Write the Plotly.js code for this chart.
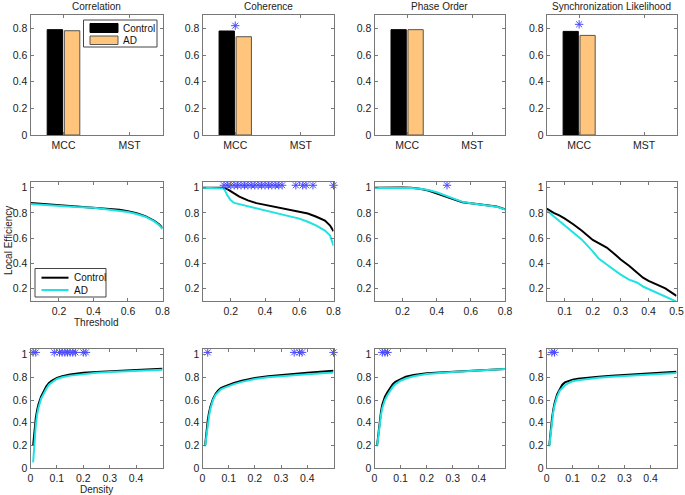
<!DOCTYPE html>
<html><head><meta charset="utf-8">
<script src="https://cdn.plot.ly/plotly-3.0.1.min.js"></script>
<style>html,body{margin:0;padding:0;background:#fff}#chart{width:685px;height:495px}</style>
</head><body><div id="chart"></div>
<script>
// ---------- data ----------
const measures = ['Correlation', 'Coherence', 'Phase Order', 'Synchronization Likelihood'];
const groups = ['Control', 'AD'];
const barCategories = ['MCC', 'MST'];
const mccControl = [0.790, 0.780, 0.790, 0.777];
const mccAD      = [0.782, 0.737, 0.790, 0.747];
const mstControl = [null, null, null, null];
const mstAD      = [null, null, null, null];
const barStarY   = [null, 0.82, null, 0.83];

// threshold curves (local efficiency vs threshold)
const thrCorr = [0.035, 0.1, 0.2, 0.3, 0.4, 0.5, 0.55, 0.6, 0.65, 0.7, 0.75, 0.78, 0.8];
const corrThrControl = [0.880, 0.873, 0.862, 0.853, 0.845, 0.833, 0.825, 0.813, 0.798, 0.775, 0.740, 0.710, 0.680];
const corrThrAD      = [0.872, 0.865, 0.856, 0.848, 0.842, 0.828, 0.820, 0.808, 0.792, 0.770, 0.735, 0.705, 0.672];
const corrThrStars = [];

const thrCoh = [0.035, 0.1, 0.15, 0.16, 0.18, 0.2, 0.22, 0.25, 0.3, 0.35, 0.4, 0.45, 0.5, 0.55, 0.6, 0.65, 0.7, 0.75, 0.78, 0.8];
const cohThrControl = [1, 1, 1, 1, 0.99, 0.975, 0.955, 0.93, 0.90, 0.878, 0.865, 0.85, 0.838, 0.825, 0.81, 0.795, 0.77, 0.74, 0.70, 0.655];
const cohThrAD      = [1, 1, 1, 0.995, 0.94, 0.90, 0.88, 0.87, 0.855, 0.84, 0.825, 0.805, 0.79, 0.772, 0.755, 0.73, 0.70, 0.66, 0.62, 0.54];
const cohThrStars = [0.16, 0.18, 0.2, 0.22, 0.24, 0.26, 0.28, 0.3, 0.32, 0.34, 0.36, 0.38, 0.4, 0.42, 0.44, 0.46, 0.48, 0.5, 0.58, 0.62, 0.64, 0.68, 0.8];

const thrPhase = [0.035, 0.1, 0.2, 0.25, 0.3, 0.35, 0.4, 0.45, 0.5, 0.55, 0.6, 0.65, 0.7, 0.75, 0.8];
const phaseThrControl = [1.0, 1.002, 1.003, 1.0, 0.993, 0.978, 0.955, 0.928, 0.905, 0.885, 0.877, 0.870, 0.863, 0.852, 0.828];
const phaseThrAD      = [0.998, 0.998, 1.0, 0.998, 0.993, 0.983, 0.965, 0.940, 0.910, 0.888, 0.878, 0.870, 0.862, 0.850, 0.827];
const phaseThrStars = [0.46];

const thrSL = [0.035, 0.06, 0.08, 0.1, 0.13, 0.16, 0.2, 0.22, 0.25, 0.28, 0.3, 0.33, 0.36, 0.38, 0.4, 0.43, 0.46, 0.5];
const slThrControl = [0.835, 0.80, 0.78, 0.755, 0.71, 0.66, 0.585, 0.56, 0.525, 0.47, 0.43, 0.38, 0.32, 0.285, 0.26, 0.23, 0.20, 0.14];
const slThrAD      = [0.82, 0.775, 0.74, 0.70, 0.65, 0.59, 0.495, 0.44, 0.39, 0.34, 0.31, 0.27, 0.245, 0.215, 0.195, 0.165, 0.135, 0.095];
const slThrStars = [];

// density curves (local efficiency vs density)
const density = [0.01, 0.015, 0.02, 0.025, 0.03, 0.04, 0.05, 0.06, 0.07, 0.08, 0.1, 0.12, 0.15, 0.2, 0.25, 0.3, 0.4, 0.5];
const corrDenControl  = [0.20, 0.34, 0.44, 0.51, 0.56, 0.63, 0.68, 0.72, 0.75, 0.77, 0.795, 0.81, 0.825, 0.84, 0.848, 0.855, 0.865, 0.875];
const corrDenAD       = [0.05, 0.25, 0.38, 0.47, 0.53, 0.61, 0.66, 0.70, 0.735, 0.755, 0.785, 0.80, 0.815, 0.83, 0.84, 0.847, 0.858, 0.868];
const corrDenStars = [0.01, 0.02, 0.09, 0.11, 0.12, 0.13, 0.14, 0.15, 0.16, 0.17, 0.2, 0.21];
const cohDenControl   = [0.20, 0.33, 0.42, 0.49, 0.54, 0.61, 0.655, 0.685, 0.705, 0.715, 0.735, 0.75, 0.77, 0.795, 0.81, 0.822, 0.84, 0.858];
const cohDenAD        = [0.19, 0.30, 0.39, 0.46, 0.52, 0.60, 0.645, 0.675, 0.695, 0.705, 0.725, 0.74, 0.76, 0.785, 0.80, 0.81, 0.827, 0.843];
const cohDenStars = [0.02, 0.35, 0.37, 0.38, 0.5];
const phaseDenControl = [0.20, 0.32, 0.42, 0.50, 0.56, 0.63, 0.67, 0.71, 0.74, 0.76, 0.785, 0.805, 0.82, 0.835, 0.843, 0.85, 0.862, 0.874];
const phaseDenAD      = [0.19, 0.30, 0.39, 0.47, 0.53, 0.60, 0.645, 0.685, 0.715, 0.74, 0.77, 0.79, 0.81, 0.83, 0.84, 0.848, 0.86, 0.873];
const phaseDenStars = [0.03, 0.04, 0.05];
const slDenControl    = [0.20, 0.33, 0.43, 0.51, 0.57, 0.65, 0.70, 0.735, 0.755, 0.765, 0.78, 0.787, 0.795, 0.805, 0.815, 0.822, 0.835, 0.85];
const slDenAD         = [0.19, 0.31, 0.41, 0.49, 0.55, 0.63, 0.68, 0.71, 0.73, 0.745, 0.765, 0.775, 0.785, 0.797, 0.805, 0.812, 0.825, 0.838];
const slDenStars = [0.02, 0.03];

const starLevel = 1.02;

// ---------- styling ----------
const W = 685, H = 495;
const colPx = [[30.5, 162.5], [202.5, 333.5], [374.5, 505], [546.7, 676.5]];
const rowPx = [[15, 135], [181.5, 301], [349, 468]];
const FONT = 'Liberation Sans, Arial, Helvetica, sans-serif';
const black = '#000000', cyan = '#1FE2E2', orange = '#FFC57C', starBlue = '#4a4aFF';
const TICK = 10.5, TXT = 10;

const thrSets = [
  [thrCorr, corrThrControl, corrThrAD, corrThrStars],
  [thrCoh, cohThrControl, cohThrAD, cohThrStars],
  [thrPhase, phaseThrControl, phaseThrAD, phaseThrStars],
  [thrSL, slThrControl, slThrAD, slThrStars]
];
const denSets = [
  [corrDenControl, corrDenAD, corrDenStars],
  [cohDenControl, cohDenAD, cohDenStars],
  [phaseDenControl, phaseDenAD, phaseDenStars],
  [slDenControl, slDenAD, slDenStars]
];

const px = v => v / W, py = v => 1 - v / H;
const traces = [];
const layout = {
  width: W, height: H, margin: {l: 0, r: 0, t: 0, b: 0},
  paper_bgcolor: '#fff', plot_bgcolor: '#fff',
  font: {family: FONT, size: TXT, color: '#222'},
  barmode: 'group', bargap: 0.48, bargroupgap: 0.1,
  showlegend: false,
  annotations: [], shapes: []
};

function axStyle(extra) {
  return Object.assign({
    showline: true, linecolor: '#777', linewidth: 1, mirror: 'ticks',
    ticks: 'inside', ticklen: 3, tickcolor: '#777', showgrid: false, zeroline: false,
    tickfont: {size: TICK, family: FONT, color: '#222'}, fixedrange: true
  }, extra);
}
const starMarker = {symbol: 'asterisk-open', size: 7, color: starBlue, line: {color: starBlue, width: 1}};

for (let r = 0; r < 3; r++) {
  for (let c = 0; c < 4; c++) {
    const i = r * 4 + c + 1;
    const xn = i === 1 ? 'xaxis' : 'xaxis' + i;
    const yn = i === 1 ? 'yaxis' : 'yaxis' + i;
    const xr = 'x' + (i === 1 ? '' : i), yr = 'y' + (i === 1 ? '' : i);
    const xd = [px(colPx[c][0]), px(colPx[c][1])];
    const yd = [py(rowPx[r][1]), py(rowPx[r][0])];
    if (r === 0) {
      layout[xn] = axStyle({domain: xd, anchor: yr, type: 'category', range: [-0.5, 1.5],
        categoryorder: 'array', categoryarray: barCategories});
      layout[yn] = axStyle({domain: yd, anchor: xr, range: [0, 0.9],
        tickvals: [0, 0.2, 0.4, 0.6, 0.8], ticktext: ['0', '0.2', '0.4', '0.6', '0.8']});
      traces.push({type: 'bar', x: barCategories, y: [mccControl[c], mstControl[c]], name: groups[0],
        xaxis: xr, yaxis: yr, marker: {color: black, line: {color: '#000', width: 1}}, hoverinfo: 'skip'});
      traces.push({type: 'bar', x: barCategories, y: [mccAD[c], mstAD[c]], name: groups[1],
        xaxis: xr, yaxis: yr, marker: {color: orange, line: {color: '#555', width: 1}}, hoverinfo: 'skip'});
      if (barStarY[c] !== null) {
        traces.push({type: 'scatter', mode: 'markers', x: [barCategories[0]], y: [barStarY[c]],
          xaxis: xr, yaxis: yr, hoverinfo: 'skip', marker: starMarker});
      }
      layout.annotations.push({xref: 'paper', yref: 'paper', x: (xd[0] + xd[1]) / 2, y: yd[1],
        xanchor: 'center', yanchor: 'bottom', yshift: 1, showarrow: false, text: measures[c],
        font: {size: TXT, family: FONT, color: '#222'}});
    } else if (r === 1) {
      const [tx, yc, ya, st] = thrSets[c];
      const isSL = c === 3;
      layout[xn] = axStyle({domain: xd, anchor: yr, range: isSL ? [0.035, 0.5] : [0.035, 0.8],
        tickvals: isSL ? [0.1, 0.2, 0.3, 0.4, 0.5] : [0.2, 0.4, 0.6, 0.8],
        ticktext: isSL ? ['0.1', '0.2', '0.3', '0.4', '0.5'] : ['0.2', '0.4', '0.6', '0.8']});
      layout[yn] = axStyle({domain: yd, anchor: xr, range: [0.1, 1.05],
        tickvals: [0.2, 0.4, 0.6, 0.8, 1], ticktext: ['0.2', '0.4', '0.6', '0.8', '1']});
      traces.push({type: 'scatter', mode: 'lines', x: tx, y: yc, name: groups[0], xaxis: xr, yaxis: yr,
        line: {color: black, width: 2}, hoverinfo: 'skip'});
      traces.push({type: 'scatter', mode: 'lines', x: tx, y: ya, name: groups[1], xaxis: xr, yaxis: yr,
        line: {color: cyan, width: 2}, hoverinfo: 'skip'});
      if (st.length) {
        traces.push({type: 'scatter', mode: 'markers', x: st, y: st.map(() => starLevel), xaxis: xr, yaxis: yr,
          hoverinfo: 'skip', cliponaxis: false, marker: starMarker});
      }
    } else {
      const [yc, ya, st] = denSets[c];
      layout[xn] = axStyle({domain: xd, anchor: yr, range: [0, 0.5],
        tickvals: [0, 0.1, 0.2, 0.3, 0.4], ticktext: ['0', '0.1', '0.2', '0.3', '0.4']});
      layout[yn] = axStyle({domain: yd, anchor: xr, range: [0, 1.05],
        tickvals: [0, 0.2, 0.4, 0.6, 0.8, 1], ticktext: ['0', '0.2', '0.4', '0.6', '0.8', '1']});
      traces.push({type: 'scatter', mode: 'lines', x: density, y: yc, name: groups[0], xaxis: xr, yaxis: yr,
        line: {color: black, width: 2}, hoverinfo: 'skip'});
      traces.push({type: 'scatter', mode: 'lines', x: density, y: ya, name: groups[1], xaxis: xr, yaxis: yr,
        line: {color: cyan, width: 2}, hoverinfo: 'skip'});
      traces.push({type: 'scatter', mode: 'markers', x: st, y: st.map(() => starLevel), xaxis: xr, yaxis: yr,
        hoverinfo: 'skip', cliponaxis: false, marker: starMarker});
    }
  }
}

// ---------- compact MATLAB-style legends (paper coordinates) ----------
function legendBox(x0, y0, x1, y1) {
  layout.shapes.push({type: 'rect', xref: 'paper', yref: 'paper', x0: px(x0), x1: px(x1), y0: py(y1), y1: py(y0),
    fillcolor: '#fff', line: {color: '#444', width: 1}, layer: 'above'});
}
function legendText(x, y, t) {
  layout.annotations.push({xref: 'paper', yref: 'paper', x: px(x), y: py(y), xanchor: 'left', yanchor: 'middle',
    showarrow: false, text: t, font: {size: TXT, family: FONT, color: '#111'}});
}
// bar legend
legendBox(83.5, 20, 157, 47);
layout.shapes.push({type: 'rect', xref: 'paper', yref: 'paper', x0: px(90), x1: px(118), y0: py(32.5), y1: py(23.5),
  fillcolor: black, line: {color: '#000', width: 1}, layer: 'above'});
layout.shapes.push({type: 'rect', xref: 'paper', yref: 'paper', x0: px(90), x1: px(118), y0: py(44.5), y1: py(36),
  fillcolor: orange, line: {color: '#555', width: 1}, layer: 'above'});
legendText(120.5, 28.3, groups[0]);
legendText(120.5, 40.3, groups[1]);
// line legend
legendBox(35, 268.5, 106, 297);
layout.shapes.push({type: 'line', xref: 'paper', yref: 'paper', x0: px(41.5), x1: px(68.5), y0: py(277.7), y1: py(277.7),
  line: {color: black, width: 2}, layer: 'above'});
layout.shapes.push({type: 'line', xref: 'paper', yref: 'paper', x0: px(41.5), x1: px(68.5), y0: py(290), y1: py(290),
  line: {color: cyan, width: 2}, layer: 'above'});
legendText(71.5, 277.7, groups[0]);
legendText(71.5, 290, groups[1]);

// axis labels
layout.annotations.push({xref: 'paper', yref: 'paper', x: px(8), y: py(241), textangle: -90,
  xanchor: 'center', yanchor: 'middle', showarrow: false, text: 'Local Efficiency',
  font: {size: TXT, family: FONT, color: '#222'}});
layout.annotations.push({xref: 'paper', yref: 'paper', x: px(96), y: py(322),
  xanchor: 'center', yanchor: 'middle', showarrow: false, text: 'Threshold',
  font: {size: TXT, family: FONT, color: '#222'}});
layout.annotations.push({xref: 'paper', yref: 'paper', x: px(96), y: py(489),
  xanchor: 'center', yanchor: 'middle', showarrow: false, text: 'Density',
  font: {size: TXT, family: FONT, color: '#222'}});

Plotly.newPlot('chart', traces, layout, {staticPlot: true, displayModeBar: false});
</script>
</body></html>
